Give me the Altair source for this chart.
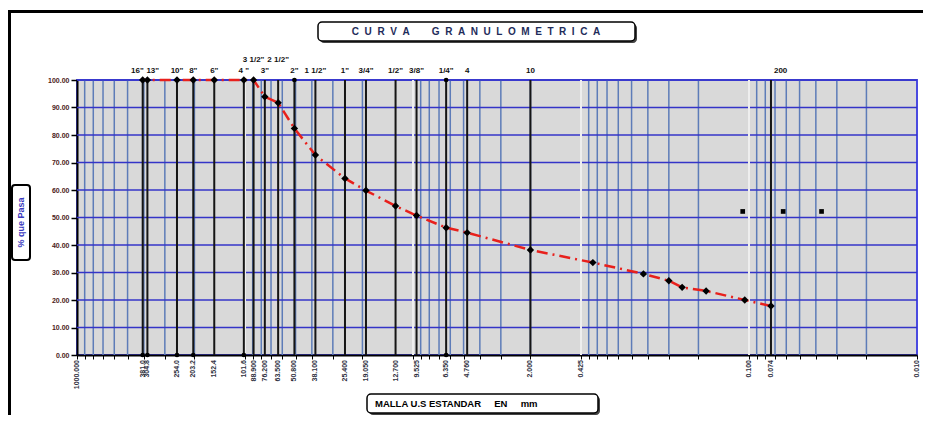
import altair as alt
import pandas as pd

# ---------------- data ----------------
sieve_names = ['16"', '13"', '10"', '8"', '6"', '4 "', '3 1/2"', '3"', '2 1/2"', '2"',
               '1 1/2"', '1"', '3/4"', '1/2"', '3/8"', '1/4"', '4', '10', '200']
sieve_mm = [406.4, 381.0, 254.0, 203.2, 152.4, 101.6, 88.9, 76.2, 63.5, 50.8,
            38.1, 25.4, 19.05, 12.7, 9.525, 6.35, 4.76, 2.0, 0.074]

curve_mm = [406.4, 381.0, 254.0, 203.2, 152.4, 101.6, 88.9, 76.2, 63.5, 50.8,
            38.1, 25.4, 19.05, 12.7, 9.525, 6.35, 4.76, 2.0, 0.85, 0.425,
            0.30, 0.25, 0.18, 0.106, 0.074]
curve_pass = [100, 100, 100, 100, 100, 100, 100, 93.9, 91.7, 82.4,
              72.7, 64.2, 59.8, 54.2, 50.7, 46.3, 44.5, 38.2, 33.6, 29.5,
              27.0, 24.6, 23.3, 20.0, 17.8]

extra_mm = [0.109, 0.0626, 0.037]
extra_pass = [52.2, 52.2, 52.2]

line_top_dots = [50.8, 6.35]
line_bottom_dots = [406.4, 381.0, 254.0, 203.2, 101.6, 6.35]

bottom_label_mm = [1000, 406.4, 381.0, 254.0, 203.2, 152.4, 101.6, 88.9, 76.2, 63.5,
                   50.8, 38.1, 25.4, 19.05, 12.7, 9.525, 6.35, 4.76, 2.0, 1.0,
                   0.1, 0.074, 0.01]
bottom_label_text = ["1000.000", "381.0", "304.8", "254.0", "203.2", "152.4", "101.6",
                     "88.900", "76.200", "63.500", "50.800", "38.100", "25.400",
                     "19.050", "12.700", "9.525", "6.350", "4.760", "2.000", "0.425",
                     "0.100", "0.074", "0.010"]

y_ticks = [0, 10, 20, 30, 40, 50, 60, 70, 80, 90, 100]
decade_mm = [1000, 100, 10, 1, 0.1, 0.01]
minor_mult = [2, 3, 4, 5, 6, 7, 8, 9]
minor_grid_mm = [m * d for d in [100, 10, 1, 0.1, 0.01] for m in minor_mult]

NB = "\u00a0"
title_words = ["CURVA", "GRANULOMETRICA"]
title_text = (NB * 8).join((NB * 2).join(w) for w in title_words)
ytitle_text = "% que Pasa"
xtitle_text = (NB * 5).join(["MALLA U.S ESTANDAR", "EN", "mm"])

# ---------------- layout ----------------
PW, PH = 840, 275
FONT = "Liberation Sans"

xscale = alt.Scale(type="log", domain=[0.01, 1000], reverse=True, nice=False)
yscale = alt.Scale(domain=[0, 100], nice=False, zero=False)
x_axis = alt.Axis(values=minor_grid_mm + decade_mm, labels=False, ticks=True, tickSize=4,
                  tickColor="#000000", tickWidth=1, domainColor="#000000", domainWidth=2,
                  grid=False, title=None)
y_axis = alt.Axis(values=y_ticks, format=".2f", labelFont=FONT, labelFontSize=7,
                  labelFontWeight="bold", labelColor="#4b1a1a", labelPadding=2,
                  tickColor="#000000", tickSize=6, tickWidth=1.5, domainColor="#000000",
                  domainWidth=2, grid=False, title=None)

X = lambda f="mm": alt.X(f"{f}:Q", scale=xscale, axis=x_axis)
Y = lambda f="pct": alt.Y(f"{f}:Q", scale=yscale, axis=y_axis)

one = pd.DataFrame({"k": [0]})


def box(x, x2, y, y2, shadow=True, radius=4, sw=1.5):
    layers = []
    if shadow:
        layers.append(alt.Chart(one).mark_rect(color="#444444", cornerRadius=radius).encode(
            x=alt.value(x + 2), x2=alt.value(x2 + 2), y=alt.value(y + 2), y2=alt.value(y2 + 2)))
    layers.append(alt.Chart(one).mark_rect(fill="#ffffff", stroke="#000000", strokeWidth=sw,
                                           cornerRadius=radius).encode(
        x=alt.value(x), x2=alt.value(x2), y=alt.value(y), y2=alt.value(y2)))
    return layers


def label(text, x, y, **kw):
    return alt.Chart(one).mark_text(font=FONT, **kw).encode(
        x=alt.value(x), y=alt.value(y), text=alt.value(text))


# outer frame
frame = alt.Chart(one).mark_rect(fill="transparent", stroke="#000000", strokeWidth=3).encode(
    x=alt.value(-67.5), x2=alt.value(880), y=alt.value(-68.5), y2=alt.value(380))

# grid lines
minor_df = pd.DataFrame({"mm": minor_grid_mm})
minor = alt.Chart(minor_df).mark_rule(color="#5d7cb8", strokeWidth=1.5).encode(x=X())

hgrid_df = pd.DataFrame({"pct": y_ticks[1:]})
hgrid = alt.Chart(hgrid_df).mark_rule(color="#3434c8", strokeWidth=1.5).encode(y=Y())

decade_df = pd.DataFrame({"mm": decade_mm[1:-1]})
decades = alt.Chart(decade_df).mark_rule(color="#eeeeee", strokeWidth=2).encode(x=X())

sieve_df = pd.DataFrame({"mm": sieve_mm, "name": sieve_names})
sieves = alt.Chart(sieve_df).mark_rule(color="#151515", strokeWidth=2).encode(x=X())

curve_df = pd.DataFrame({"mm": curve_mm, "pct": curve_pass})
curve = alt.Chart(curve_df).mark_line(color="#e8201c", strokeWidth=2.5,
                                      strokeDash=[11, 5, 2, 5]).encode(x=X(), y=Y(), order="mm:Q")
points = alt.Chart(curve_df).mark_point(shape="diamond", filled=True, color="#000000",
                                        size=55, opacity=1).encode(x=X(), y=Y())

top_dots_df = pd.DataFrame({"mm": line_top_dots, "pct": [100] * len(line_top_dots)})
bot_dots_df = pd.DataFrame({"mm": line_bottom_dots, "pct": [0] * len(line_bottom_dots)})
dots = alt.layer(
    alt.Chart(top_dots_df).mark_circle(color="#000000", size=22, opacity=1).encode(x=X(), y=Y()),
    alt.Chart(bot_dots_df).mark_circle(color="#000000", size=22, opacity=1).encode(x=X(), y=Y()),
)

extra_df = pd.DataFrame({"mm": extra_mm, "pct": extra_pass})
extra = alt.Chart(extra_df).mark_point(shape="square", filled=True, color="#000000",
                                       size=22, opacity=1).encode(x=X(), y=Y())

# sieve names above plot
staggered = {'3 1/2"', '2 1/2"'}
right_al = {'16"'}
left_al = {'13"', '200'}
normal = [n for n in sieve_names if n not in staggered | right_al | left_al]


def name_layer(names, y, align, dx=0):
    df = sieve_df[sieve_df["name"].isin(names)]
    return alt.Chart(df).mark_text(font=FONT, fontSize=8, fontWeight="bold", color="#111111",
                                   align=align, baseline="middle", dx=dx).encode(
        x=X(), y=alt.value(y), text="name:N")


names = alt.layer(
    name_layer(normal, -9.5, "center"),
    name_layer(list(staggered), -20, "center"),
    name_layer(list(right_al), -9.5, "right", 1),
    name_layer(['13"'], -9.5, "left", -1),
    name_layer(['200'], -9.5, "left", 3),
)

# size labels under the axis
bl_df = pd.DataFrame({"mm": bottom_label_mm, "txt": bottom_label_text})
bottom_labels = alt.Chart(bl_df).mark_text(font=FONT, fontSize=7, fontWeight="bold",
                                           color="#2e3040", angle=270, align="right",
                                           baseline="middle").encode(
    x=X(), y=alt.value(PH + 5), text="txt:N")

# title boxes and texts
deco = []
deco += box(241, 558, -58, -39)
deco.append(label(title_text, 399, -48.5, fontSize=10, fontWeight="bold", color="#1e2c5a",
                  align="center", baseline="middle"))
deco += box(-65, -47, 105, 180, shadow=False, radius=3, sw=2)
deco.append(label(ytitle_text, -56, 142.5, fontSize=9, fontWeight="bold", color="#3b3bc0",
                  angle=270, align="center", baseline="middle"))
deco += box(290, 521, 314, 333)
deco.append(label(xtitle_text, 298, 324, fontSize=9.5, fontWeight="bold", color="#000000",
                  align="left", baseline="middle"))

chart = alt.layer(
    frame, minor, hgrid, decades, sieves, curve, points, dots, extra, names, bottom_labels,
    *deco
).properties(
    width=PW, height=PH,
    autosize=alt.AutoSizeParams(type="none"),
    padding={"left": 69, "top": 72, "right": 6, "bottom": 60},
    background="#ffffff",
).configure_view(
    fill="#d9d9d9", stroke="#4a4ae0", strokeWidth=2
)

chart.save("out.html", embed_options={"renderer": "svg", "actions": False})
